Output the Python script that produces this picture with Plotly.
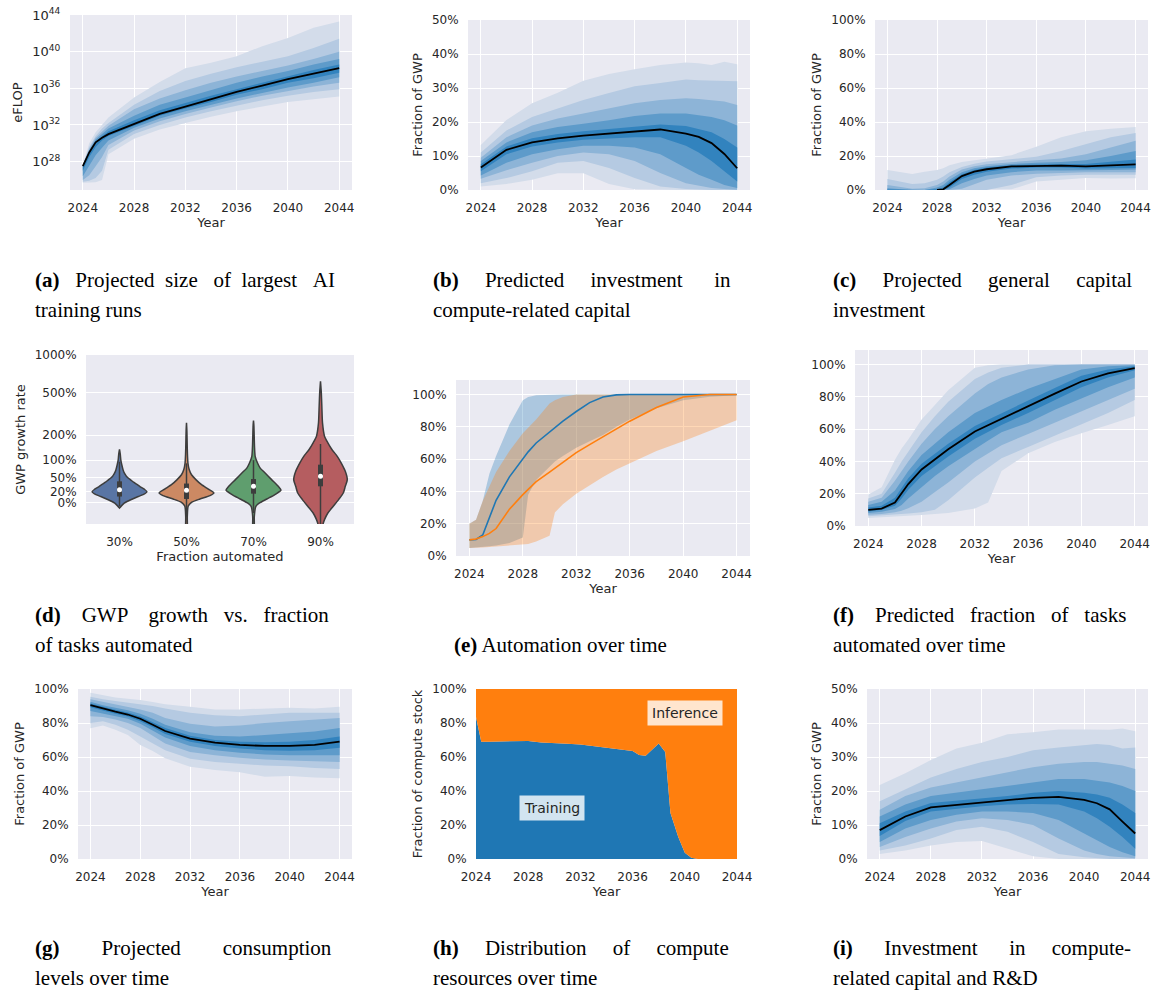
import math
import plotly.graph_objects as go

# ---------------- DATA ----------------
YEAR_TICKS = [2024, 2028, 2032, 2036, 2040, 2044]

# (a) Projected size of largest AI training runs (log10 eFLOP)
A_YEARS = [2024, 2024.5, 2025, 2025.5, 2026, 2028, 2030, 2032, 2034, 2036, 2038, 2040, 2042, 2044]
A_MED = [27.5, 29.0, 30.1, 30.6, 31.0, 32.1, 33.2, 34.0, 34.8, 35.6, 36.3, 37.0, 37.6, 38.2]
A_LO1 = [25.7, 25.7, 25.75, 26.0, 28.8, 30.5, 31.5, 32.2, 32.9, 33.5, 34.0, 34.5, 34.8, 35.1]
A_HI1 = [27.6, 30.0, 31.2, 32.0, 32.8, 35.0, 36.7, 38.2, 38.8, 39.5, 40.6, 41.5, 42.6, 43.3]
A_LO2 = [25.8, 25.9, 26.2, 27.0, 29.3, 31.0, 32.0, 32.8, 33.5, 34.1, 34.7, 35.2, 35.6, 35.9]
A_HI2 = [27.6, 29.6, 30.8, 31.6, 32.2, 34.2, 35.7, 36.8, 37.6, 38.3, 38.9, 39.5, 40.4, 41.4]
A_LO3 = [26.0, 26.5, 27.5, 28.5, 29.8, 31.4, 32.4, 33.2, 33.9, 34.6, 35.2, 35.7, 36.2, 36.6]
A_HI3 = [27.6, 29.4, 30.6, 31.3, 31.9, 33.7, 34.9, 35.8, 36.6, 37.3, 37.9, 38.5, 39.2, 40.0]
A_LO4 = [26.4, 27.5, 28.7, 29.5, 30.3, 31.7, 32.7, 33.5, 34.2, 34.9, 35.5, 36.1, 36.6, 37.2]
A_HI4 = [27.55, 29.2, 30.4, 31.0, 31.6, 33.0, 34.2, 35.0, 35.8, 36.6, 37.3, 37.9, 38.6, 39.2]
A_LO5 = [27.0, 28.5, 29.6, 30.3, 30.8, 31.9, 33.0, 33.8, 34.5, 35.3, 35.9, 36.6, 37.1, 37.7]
A_HI5 = [27.5, 29.1, 30.2, 30.8, 31.3, 32.5, 33.6, 34.4, 35.2, 35.9, 36.6, 37.3, 38.0, 38.6]
A_TICK_EXP = [28, 32, 36, 40, 44]

# (b) Predicted investment in compute-related capital (% of GWP)
B_YEARS = [2024, 2026, 2028, 2030, 2032, 2034, 2036, 2038, 2040, 2041, 2042, 2043, 2044]
B_MED = [6.6, 11.8, 14.0, 15.2, 16.0, 16.6, 17.3, 17.8, 16.6, 15.6, 13.8, 10.6, 6.4]
B_LO1 = [1.0, 1.8, 3.0, 4.9, 4.9, 1.8, 0.2, 0, 0, 0, 0, 0, 0]
B_HI1 = [13.2, 20.6, 25.5, 28.6, 32.1, 34.1, 35.5, 36.8, 37.5, 37.3, 36.8, 37.7, 37.0]
B_LO2 = [2.0, 3.5, 5.5, 8.0, 8.5, 6.5, 3.5, 1.0, 0.3, 0.1, 0, 0, 0]
B_HI2 = [11.0, 17.5, 21.5, 24.0, 26.5, 28.5, 30.5, 31.5, 32.5, 32.3, 32.2, 32.2, 32.0]
B_LO3 = [3.3, 5.8, 8.0, 10.0, 11.0, 10.5, 8.5, 5.0, 2.0, 1.2, 0.6, 0.3, 0.1]
B_HI3 = [9.5, 15.5, 19.0, 21.0, 22.5, 24.0, 25.5, 26.5, 27.0, 26.8, 26.5, 26.0, 25.0]
B_LO4 = [4.3, 8.0, 10.5, 12.0, 13.0, 13.0, 12.5, 10.5, 6.5, 4.5, 3.0, 1.5, 0.6]
B_HI4 = [8.5, 14.0, 17.0, 18.5, 19.5, 20.5, 21.8, 22.5, 22.5, 22.0, 21.5, 20.5, 19.0]
B_LO5 = [5.5, 10.5, 12.8, 14.0, 14.8, 15.2, 15.5, 15.5, 13.0, 11.0, 8.5, 5.5, 2.5]
B_HI5 = [7.6, 12.8, 15.2, 16.5, 17.3, 18.0, 18.8, 19.3, 18.8, 18.0, 17.0, 15.0, 12.5]

# (c) Projected general capital investment (% of GWP)
C_YEARS = [2024, 2026, 2027, 2028, 2028.5, 2029, 2030, 2031, 2032, 2034, 2036, 2038, 2040, 2042, 2044]
C_MED = [None, None, None, 0.0, 0.4, 2.9, 8.2, 10.8, 12.2, 13.9, 14.3, 14.3, 13.9, 14.3, 15.1]
C_LO1 = [0, 0, 0, 0, 0, 0, 0, 0, 0, 0.4, 5.0, 6.0, 7.0, 6.8, 6.9]
C_HI1 = [11.8, 9.4, 10.8, 11.8, 12.8, 14.5, 16.5, 17.5, 18.3, 20.5, 25.5, 31.0, 34.5, 36.0, 37.0]
C_LO2 = [0, 0, 0, 0, 0, 0, 0, 0, 0, 3.0, 7.5, 8.5, 9.0, 9.0, 9.0]
C_HI2 = [6.5, 3.5, 4.0, 6.0, 8.0, 10.5, 13.5, 15.5, 16.8, 18.0, 19.5, 23.0, 27.0, 31.0, 33.5]
C_LO3 = [0, 0, 0, 0, 0, 0, 0.8, 3.5, 6.0, 8.5, 9.5, 10.0, 10.5, 10.5, 10.5]
C_HI3 = [3.0, 0.8, 1.0, 3.0, 5.0, 8.0, 12.0, 14.0, 15.2, 16.5, 17.5, 18.5, 21.0, 25.0, 29.0]
C_LO4 = [0, 0, 0, 0, 0, 0.5, 4.0, 6.5, 8.5, 10.5, 11.5, 11.5, 11.5, 11.8, 12.0]
C_HI4 = [1.0, 0, 0, 1.5, 3.0, 6.0, 10.5, 12.8, 14.0, 15.3, 16.0, 16.5, 17.5, 20.0, 23.0]
C_LO5 = [0, 0, 0, 0, 0, 1.5, 6.5, 9.0, 10.8, 12.6, 13.2, 13.2, 12.7, 12.8, 13.0]
C_HI5 = [0.3, 0, 0, 0.5, 1.5, 4.5, 9.3, 11.8, 13.2, 14.6, 15.1, 15.3, 15.3, 16.5, 18.0]

# (d) GWP growth vs fraction automated (violins: growth %, half-width in category units)
D_CATS = ["30%", "50%", "70%", "90%"]
D_G = [
    [-8, -5, 0, 5, 11, 15, 20, 25, 30, 35, 40, 45, 50, 55, 60, 70, 85, 100, 120, 138],
    [-45, -20, -5, 1, 6.7, 12.7, 17.5, 25.6, 35, 46, 58, 72, 90, 120, 160, 220, 266],
    [-45, -20, -5.3, 0, 6.7, 14.5, 23, 31, 46, 63, 76, 91, 113, 150, 200, 250, 280],
    [-45, -28.5, -23.7, -15, -5.3, 5.6, 17.5, 31, 46, 67, 91, 113, 138, 165, 195, 266, 380, 500, 619],
]
D_W = [
    [0, 0.025, 0.075, 0.16, 0.28, 0.36, 0.41, 0.37, 0.31, 0.26, 0.21, 0.17, 0.13, 0.10, 0.08, 0.055, 0.035, 0.02, 0.012, 0],
    [0.01, 0.012, 0.025, 0.075, 0.2, 0.35, 0.41, 0.32, 0.22, 0.14, 0.075, 0.04, 0.022, 0.014, 0.01, 0.006, 0],
    [0.01, 0.012, 0.035, 0.09, 0.2, 0.32, 0.41, 0.37, 0.27, 0.17, 0.10, 0.06, 0.025, 0.015, 0.01, 0.006, 0],
    [0.02, 0.04, 0.06, 0.11, 0.19, 0.27, 0.34, 0.37, 0.40, 0.37, 0.31, 0.25, 0.17, 0.11, 0.06, 0.03, 0.02, 0.012, 0],
]
D_Q1 = [11, 6.7, 16.3, 31]
D_Q3 = [42, 37, 47.5, 86]
D_MEDIAN = [24, 23, 31, 54]
D_WLO = [-5, -20, -15, -40]
D_WHI = [95, 90, 100, 160]
D_TICKS = [0, 20, 50, 100, 200, 500, 1000]

# (e) Automation over time (%)
E_YEARS = [2024, 2024.5, 2025, 2025.5, 2026, 2027, 2028, 2028.4, 2029, 2030, 2030.4, 2031,
           2032, 2033, 2034, 2035, 2036, 2038, 2040, 2042, 2044]
E_BLUE = [10, 10.2, 13, 24, 34.5, 49, 60.5, 64.5, 70, 77, 79.5, 83.5, 89.5, 95, 98.5, 99.8, 100, 100, 100, 100, 100]
E_BLUE_HI = [20, 22.5, 34, 51, 62, 81.5, 96.5, 98.5, 99.6, 100, 100, 100, 100, 100, 100, 100, 100, 100, 100, 100, 100]
E_BLUE_LO = [5, 5.2, 5.5, 6, 6.5, 8, 11.5, 38, 47, 55.5, 58.5, 62, 67, 71, 75, 80, 84.5, 91.5, 96.5, 98.6, 99.5]
E_ORANGE = [10, 10.5, 12, 14, 17, 29, 38, 41, 46, 52, 54.5, 58, 64, 69, 74, 79, 83.5, 92, 98.5, 100, 100]
E_ORANGE_HI = [20, 22.5, 34, 43, 52, 65, 76, 79.5, 84.5, 94.5, 96.5, 98.5, 100, 100, 100, 100, 100, 100, 100, 100, 100]
E_ORANGE_LO = [5, 5, 5.3, 5.5, 5.8, 6.3, 7, 7.5, 9, 12.5, 27, 32, 38.5, 44, 49, 53.5, 57.5, 65, 71, 77.5, 84]

# (f) Predicted fraction of tasks automated (%)
F_YEARS = [2024, 2025, 2026, 2026.5, 2027, 2028, 2029, 2030, 2032, 2033, 2034, 2036, 2038, 2040, 2042, 2044]
F_MED = [10, 10.8, 14.5, 20, 26, 35, 41, 47.5, 58.5, 62.5, 66.5, 74, 82, 89.5, 94.5, 97.8]
F_LO1 = [5.0, 5.3, 5.8, 6.0, 6.3, 6.8, 7.2, 8.0, 10.8, 14.5, 34, 45, 52, 57.5, 62.5, 68]
F_HI1 = [19.5, 24, 41, 48, 53.5, 66, 75, 84, 98, 99.5, 100, 100, 100, 100, 100, 100]
F_LO2 = [6.0, 6.5, 7.0, 7.3, 7.8, 8.5, 10, 16, 30, 36, 42, 49, 56, 62.5, 70, 78]
F_HI2 = [17, 20, 33, 40, 46, 58, 68, 77, 91, 95, 98, 100, 100, 100, 100, 100]
F_LO3 = [7.0, 7.5, 8.5, 9.5, 11, 15, 21, 27, 40, 45, 50, 57, 64, 71, 78, 85]
F_HI3 = [15, 17.5, 28, 34, 40, 51, 60, 68, 82, 88, 92, 97, 99.5, 100, 100, 100]
F_LO4 = [8.0, 8.8, 10.5, 13, 17, 24, 31, 37, 48, 53, 58, 64, 72, 79, 86, 92]
F_HI4 = [13, 15, 22, 28, 34, 44, 51, 58, 70, 74, 78, 85, 91, 97, 99, 99.5]
F_LO5 = [9.0, 10, 12.5, 17, 22.5, 31, 37, 43, 54, 58.5, 62.5, 70, 78, 86, 92, 96.5]
F_HI5 = [11.5, 12.5, 17.5, 23.5, 29.5, 38.5, 45, 51, 62, 66, 70, 77.5, 85.5, 93, 97, 99]

# (g) Projected consumption levels (% of GWP)
G_YEARS = [2024, 2025, 2026, 2027, 2028, 2029, 2030, 2032, 2034, 2036, 2038, 2040, 2042, 2044]
G_MED = [90.5, 88.5, 86.7, 85.0, 82.5, 79, 75.3, 70.8, 68.4, 67.1, 66.5, 66.5, 67.1, 69.0]
G_LO1 = [76.9, 78.5, 76, 73, 67, 63.5, 59.2, 54.3, 52.4, 51, 48.4, 48.8, 48, 47.5]
G_HI1 = [97.8, 96.5, 95, 94.2, 93.5, 92.3, 91, 89.6, 88, 88, 88.5, 89, 88.5, 89.6]
G_LO2 = [80, 81, 79, 76, 72, 68, 64, 59, 57, 56, 55, 54.5, 53.5, 53]
G_HI2 = [95.5, 94, 93, 92, 91, 90, 88.5, 86, 84.5, 84, 85, 86, 86, 86]
G_LO3 = [84, 83.5, 82, 80, 77, 72.5, 68, 63, 61, 59.5, 58.5, 58, 57.5, 57]
G_HI3 = [94, 92.5, 91, 89.5, 88, 86, 83, 79.5, 78, 78.5, 80, 81, 82, 83]
G_LO4 = [87, 85.5, 84, 82.5, 79.5, 75.5, 71.5, 66.5, 64, 62.5, 61.5, 61, 61, 61]
G_HI4 = [92.5, 90.5, 89, 87.5, 85.5, 82.5, 79, 74.5, 72.5, 72, 73, 74, 75, 77]
G_LO5 = [89.3, 87.3, 85.5, 83.8, 81, 77.5, 73.5, 69, 66.5, 65, 64, 63.7, 64, 65.5]
G_HI5 = [91.5, 89.5, 87.8, 86.2, 83.8, 80.5, 77, 72.5, 70, 69, 68.7, 69, 70, 72]

# (h) Distribution of compute resources (% training)
H_YEARS = [2024, 2024.4, 2025, 2026, 2027, 2028, 2029, 2030, 2031, 2032, 2033, 2034, 2035, 2036,
           2036.5, 2037, 2038, 2038.5, 2038.9, 2039.5, 2040, 2040.5, 2041, 2044]
H_TRAIN = [83.5, 69, 69, 69.2, 69.6, 69.4, 68.6, 68.4, 67.8, 67.4, 66.5, 65.5, 64.5, 63.5,
           61.2, 60.8, 68.0, 63.0, 27, 13, 3.7, 0.8, 0, 0]

# (i) Investment in compute-related capital and R&D (% of GWP)
I_YEARS = B_YEARS
I_MED = [8.5, 12.5, 15.2, 15.9, 16.6, 17.1, 18.0, 18.3, 17.4, 16.4, 14.6, 11.0, 7.5]
I_LO1 = [1.5, 2.5, 4.0, 5.0, 5.3, 3.0, 0.8, 0, 0, 0, 0, 0, 0]
I_HI1 = [21.8, 25.2, 29.1, 32.5, 34.2, 36.7, 37.3, 38.1, 38.1, 38.0, 38.0, 38.4, 37.6]
I_LO2 = [2.5, 4.0, 6.0, 8.5, 9.5, 8.0, 5.0, 1.5, 0.5, 0.2, 0, 0, 0]
I_HI2 = [17.0, 20.5, 24.0, 26.5, 28.5, 30.0, 32.0, 32.8, 33.5, 33.8, 33.5, 32.5, 32.8]
I_LO3 = [3.5, 6.5, 9.0, 11.0, 12.0, 11.5, 10.0, 6.0, 2.5, 1.5, 0.8, 0.4, 0.2]
I_HI3 = [14.5, 18.5, 21.0, 22.5, 24.0, 25.5, 27.0, 28.0, 28.5, 28.5, 28.0, 27.5, 26.5]
I_LO4 = [5.0, 9.0, 11.5, 13.0, 14.0, 14.0, 13.5, 11.5, 7.5, 5.5, 3.5, 2.0, 0.8]
I_HI4 = [12.5, 16.0, 18.5, 19.5, 20.5, 21.5, 22.5, 23.5, 23.5, 23.0, 22.5, 21.5, 20.0]
I_LO5 = [6.8, 11.2, 14.0, 14.8, 15.5, 16.0, 16.2, 16.0, 14.0, 12.0, 9.5, 6.5, 3.0]
I_HI5 = [10.5, 14.0, 16.5, 17.2, 18.0, 18.5, 19.5, 20.0, 19.5, 19.0, 18.0, 16.0, 13.5]

# caption lines: (left px, centre px, text, extra spaces in each word gap for justification)
CAPTIONS = [
    (33, 280, "<b>(a)</b> Projected size of largest AI", [2, 1, 2, 1, 2, 1]),
    (33, 310, "training runs", None),
    (431, 280, "<b>(b)</b> Predicted investment in", [4, 4, 5]),
    (431, 310, "compute-related capital", None),
    (831, 280, "<b>(c)</b> Projected general capital", [4, 4, 4]),
    (831, 310, "investment", None),
    (33, 615, "<b>(d)</b> GWP growth vs. fraction", [3, 3, 2, 2]),
    (33, 645, "of tasks automated", None),
    (452, 645, "<b>(e)</b> Automation over time", None),
    (831, 615, "<b>(f)</b> Predicted fraction of tasks", [3, 2, 2, 2]),
    (831, 645, "automated over time", None),
    (33, 948, "<b>(g)</b> Projected consumption", [7, 7]),
    (33, 978, "levels over time", None),
    (431, 948, "<b>(h)</b> Distribution of compute", [4, 4, 4]),
    (431, 978, "resources over time", None),
    (831, 948, "<b>(i)</b> Investment in compute-", [5, 5, 4]),
    (831, 978, "related capital and R&amp;D", None),
]

# ---------------- STYLE ----------------
W, H = 1156, 992
BG = "#eaeaf2"
TXT = "#262626"
BAND_COLORS = ["#d3dcea", "#b5cae2", "#8db4d7", "#5e9bca", "#3283be"]
VIO_COLORS = ["#5975a4", "#cc8963", "#5f9e6e", "#b55d60"]
EDGE = "#3d3d3d"
C0, C1 = "#1f77b4", "#ff7f0e"

PANELS = {
    1: (70, 352, 15, 190), 2: (468, 750, 20, 190), 3: (875, 1148, 20, 190),
    4: (86, 354, 355, 524), 5: (456, 750, 380, 556), 6: (855, 1148, 350, 526),
    7: (78, 352, 689, 859), 8: (476, 737, 689, 859), 9: (867, 1148, 689, 859),
}

fig = go.Figure()
layout = dict(width=W, height=H, margin=dict(l=0, r=0, t=0, b=0, autoexpand=False),
              paper_bgcolor="white", plot_bgcolor=BG, showlegend=False,
              font=dict(family="DejaVu Sans", color=TXT, size=12))

AX = dict(showgrid=True, gridcolor="white", gridwidth=1, zeroline=False, showline=False,
          ticks="outside", tickcolor="rgba(0,0,0,0)", automargin=False,
          tickfont=dict(size=12, color=TXT, family="DejaVu Sans"),
          title_font=dict(size=13, color=TXT, family="DejaVu Sans"))


def axn(k, c):
    return f"{c}axis" if k == 1 else f"{c}axis{k}"


def ref(k, c):
    return c if k == 1 else f"{c}{k}"


def setup(k, xcfg, ycfg):
    x0, x1, y0, y1 = PANELS[k]
    xa = dict(AX, domain=[x0 / W, x1 / W], anchor=ref(k, "y"), ticklen=7)
    ya = dict(AX, domain=[1 - y1 / H, 1 - y0 / H], anchor=ref(k, "x"), ticklen=6)
    xa.update(xcfg)
    ya.update(ycfg)
    layout[axn(k, "x")] = xa
    layout[axn(k, "y")] = ya


def year_x(rng=(2023, 2045), grid=True):
    return dict(range=list(rng), tickvals=YEAR_TICKS, showgrid=grid,
                title=dict(text="Year", standoff=3))


def pct_y(rng, dtick, title=None):
    d = dict(range=list(rng), tickformat=".0%", dtick=dtick, tick0=0)
    if title:
        d["title"] = dict(text=title, standoff=6)
    return d


def add(k, **kw):
    kw.setdefault("hoverinfo", "skip")
    fig.add_trace(go.Scatter(xaxis=ref(k, "x"), yaxis=ref(k, "y"), **kw))


def fan(k, years, bands, med, conv):
    for (lo, hi), col in zip(bands, BAND_COLORS):
        add(k, x=years, y=[conv(v) for v in lo], mode="lines", line=dict(width=0))
        add(k, x=years, y=[conv(v) for v in hi], mode="lines", line=dict(width=0),
            fill="tonexty", fillcolor=col)
    add(k, x=years, y=[None if v is None else conv(v) for v in med], mode="lines",
        line=dict(color="black", width=1.8))


pct = lambda v: v / 100.0
expo = lambda v: 10.0 ** v

# (a)
fan(1, A_YEARS, [(A_LO1, A_HI1), (A_LO2, A_HI2), (A_LO3, A_HI3), (A_LO4, A_HI4), (A_LO5, A_HI5)], A_MED, expo)
setup(1, year_x(), dict(type="log", range=[24.9, 44], tickvals=[10.0 ** e for e in A_TICK_EXP],
                        ticktext=[f"10<sup>{e}</sup>" for e in A_TICK_EXP],
                        tickfont=dict(size=13, color=TXT, family="DejaVu Sans"),
                        title=dict(text="eFLOP", standoff=6)))
# (b)
fan(2, B_YEARS, [(B_LO1, B_HI1), (B_LO2, B_HI2), (B_LO3, B_HI3), (B_LO4, B_HI4), (B_LO5, B_HI5)], B_MED, pct)
setup(2, year_x(), pct_y((0, 0.5), 0.1, "Fraction of GWP"))
# (c)
fan(3, C_YEARS, [(C_LO1, C_HI1), (C_LO2, C_HI2), (C_LO3, C_HI3), (C_LO4, C_HI4), (C_LO5, C_HI5)], C_MED, pct)
setup(3, year_x(), pct_y((0, 1.0), 0.2, "Fraction of GWP"))

# (d) violins
gt = lambda g: math.log10(1 + g / 100.0)
for i in range(len(D_CATS)):
    gs, ws = D_G[i], D_W[i]
    xs = [i + w for w in ws] + [i - w for w in reversed(ws)] + [i + ws[0]]
    ys = [gt(g) for g in gs] + [gt(g) for g in reversed(gs)] + [gt(gs[0])]
    add(4, x=xs, y=ys, mode="lines", fill="toself", fillcolor=VIO_COLORS[i],
        line=dict(color=EDGE, width=1.5, shape="spline", smoothing=0.6))
    add(4, x=[i, i], y=[gt(D_WLO[i]), gt(D_WHI[i])], mode="lines", line=dict(color=EDGE, width=1.5))
    add(4, x=[i, i], y=[gt(D_Q1[i]), gt(D_Q3[i])], mode="lines", line=dict(color=EDGE, width=5))
    add(4, x=[i], y=[gt(D_MEDIAN[i])], mode="markers", marker=dict(color="white", size=5))
setup(4, dict(range=[-0.5, 3.5], tickvals=list(range(len(D_CATS))), ticktext=D_CATS, showgrid=False,
              title=dict(text="Fraction automated", standoff=3)),
      dict(range=[-0.148, 1.0414], tickvals=[gt(v) for v in D_TICKS], ticktext=[f"{v}%" for v in D_TICKS],
           title=dict(text="GWP growth rate", standoff=6)))

# (e)
add(5, x=E_YEARS, y=[pct(v) for v in E_BLUE_LO], mode="lines", line=dict(width=0))
add(5, x=E_YEARS, y=[pct(v) for v in E_BLUE_HI], mode="lines", line=dict(width=0),
    fill="tonexty", fillcolor="rgba(31,119,180,0.3)")
add(5, x=E_YEARS, y=[pct(v) for v in E_ORANGE_LO], mode="lines", line=dict(width=0))
add(5, x=E_YEARS, y=[pct(v) for v in E_ORANGE_HI], mode="lines", line=dict(width=0),
    fill="tonexty", fillcolor="rgba(255,127,14,0.3)")
add(5, x=E_YEARS, y=[pct(v) for v in E_BLUE], mode="lines", line=dict(color=C0, width=1.6))
add(5, x=E_YEARS, y=[pct(v) for v in E_ORANGE], mode="lines", line=dict(color=C1, width=1.6))
setup(5, year_x(), pct_y((0, 1.09), 0.2))

# (f)
fan(6, F_YEARS, [(F_LO1, F_HI1), (F_LO2, F_HI2), (F_LO3, F_HI3), (F_LO4, F_HI4), (F_LO5, F_HI5)], F_MED, pct)
setup(6, year_x(), pct_y((0, 1.09), 0.2))

# (g)
fan(7, G_YEARS, [(G_LO1, G_HI1), (G_LO2, G_HI2), (G_LO3, G_HI3), (G_LO4, G_HI4), (G_LO5, G_HI5)], G_MED, pct)
setup(7, year_x(), pct_y((0, 1.0), 0.2, "Fraction of GWP"))

# (h)
add(8, x=H_YEARS, y=[pct(v) for v in H_TRAIN], mode="lines", line=dict(width=0),
    fill="tozeroy", fillcolor=C0)
add(8, x=H_YEARS, y=[1.0 for _ in H_YEARS], mode="lines", line=dict(width=0),
    fill="tonexty", fillcolor=C1)
setup(8, year_x((2024, 2044), grid=False),
      dict(pct_y((0, 1.0), 0.2, "Fraction of compute stock"), showgrid=False))

# (i)
fan(9, I_YEARS, [(I_LO1, I_HI1), (I_LO2, I_HI2), (I_LO3, I_HI3), (I_LO4, I_HI4), (I_LO5, I_HI5)], I_MED, pct)
setup(9, year_x(), pct_y((0, 0.5), 0.1, "Fraction of GWP"))

annotations = []
annotations.append(dict(xref="x8", yref="y8", x=2029.86, y=0.30, text="Training", showarrow=False,
                        font=dict(size=14, color=TXT), bgcolor="rgba(255,255,255,0.8)", borderpad=4))
annotations.append(dict(xref="x8", yref="y8", x=2040.0, y=0.857, text="Inference", showarrow=False,
                        font=dict(size=14, color=TXT), bgcolor="rgba(255,255,255,0.8)", borderpad=4))
NBSP = "\u00a0"


def justify(txt, extras):
    if not extras:
        return txt
    words = txt.split(" ")
    out = words[0]
    for w, n in zip(words[1:], extras):
        out += " " + NBSP * n + w
    return out


for (px, py, txt, extras) in CAPTIONS:
    annotations.append(dict(xref="paper", yref="paper", x=px / W, y=1 - py / H, text=justify(txt, extras),
                            showarrow=False, xanchor="left", yanchor="middle",
                            font=dict(family="Liberation Serif", size=21, color="black")))
layout["annotations"] = annotations
fig.update_layout(**layout)
fig.write_html("out.html", config={"displayModeBar": False},
               post_script="document.body.style.margin='0px';document.body.style.overflow='hidden';")
